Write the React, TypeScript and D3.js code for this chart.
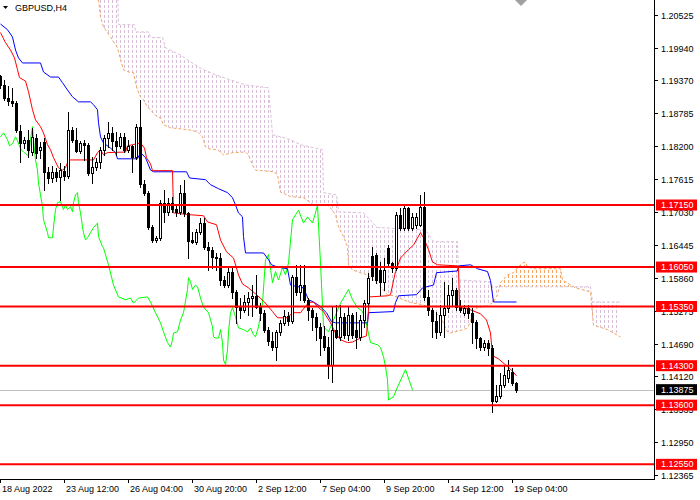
import React from "react";
import * as d3 from "d3";

// ---------- DATA ----------
const openP = [1.1944,1.1928,1.1905,1.19,1.1896,1.1847,1.1825,1.1831,1.1809,1.1834,1.1813,1.1827,1.1774,1.1763,1.1774,1.1765,1.1776,1.1767,1.1848,1.1831,1.1811,1.1825,1.1822,1.1772,1.1783,1.1792,1.1813,1.1834,1.1843,1.1829,1.182,1.1836,1.1813,1.182,1.1801,1.1854,1.1753,1.1737,1.1676,1.1653,1.1657,1.1719,1.1703,1.1719,1.1708,1.1703,1.1737,1.1701,1.1653,1.1649,1.1668,1.1683,1.1641,1.1636,1.1623,1.1621,1.1582,1.1573,1.1597,1.1561,1.1534,1.1529,1.1543,1.155,1.1554,1.1534,1.1524,1.1494,1.1474,1.1463,1.149,1.1506,1.1519,1.151,1.1588,1.1561,1.1573,1.1547,1.1529,1.1517,1.1499,1.1483,1.1463,1.1432,1.1494,1.1481,1.1517,1.1485,1.152,1.1494,1.1481,1.1511,1.1541,1.1625,1.1627,1.16,1.1579,1.1639,1.1613,1.1604,1.1698,1.1675,1.171,1.1675,1.168,1.168,1.1712,1.1552,1.1529,1.151,1.149,1.152,1.1533,1.1556,1.1565,1.1534,1.1524,1.1533,1.1524,1.1508,1.1479,1.1463,1.1471,1.1462,1.1368,1.1377,1.1396,1.1408,1.1419,1.14];
const highP = [1.1946,1.1937,1.1927,1.1923,1.19,1.1857,1.1836,1.1848,1.1852,1.1841,1.1827,1.1834,1.1783,1.1785,1.1781,1.179,1.1785,1.188,1.1854,1.1852,1.1829,1.1831,1.1825,1.1801,1.1799,1.1818,1.184,1.1863,1.1854,1.1845,1.1843,1.1843,1.1831,1.1822,1.1859,1.1902,1.176,1.1739,1.168,1.166,1.1724,1.1742,1.1728,1.173,1.1715,1.1751,1.176,1.1703,1.1668,1.1673,1.1692,1.1692,1.165,1.1641,1.163,1.163,1.1589,1.1605,1.1604,1.1565,1.155,1.1556,1.1561,1.1573,1.1591,1.1541,1.1529,1.1498,1.149,1.1494,1.1511,1.1529,1.1526,1.1591,1.1609,1.1609,1.1609,1.155,1.1532,1.1524,1.1506,1.1501,1.1481,1.1534,1.1538,1.1538,1.1524,1.1534,1.1524,1.1526,1.152,1.1547,1.1595,1.1641,1.163,1.1614,1.1621,1.1644,1.1614,1.1703,1.171,1.1715,1.1712,1.1701,1.1701,1.1733,1.1738,1.1565,1.1532,1.1526,1.1538,1.1579,1.1573,1.1586,1.1568,1.1547,1.1538,1.1538,1.1533,1.1511,1.1481,1.1476,1.1476,1.1467,1.1396,1.1417,1.1431,1.144,1.1426,1.1401];
const lowP = [1.1923,1.1902,1.1893,1.1891,1.1845,1.1792,1.1816,1.1801,1.1804,1.1799,1.1799,1.1742,1.1754,1.1756,1.1758,1.1724,1.176,1.1763,1.1827,1.1809,1.1808,1.1795,1.1769,1.1754,1.1777,1.1781,1.1804,1.1818,1.1813,1.1804,1.1816,1.1809,1.1809,1.1774,1.1797,1.1747,1.1733,1.1673,1.165,1.165,1.1653,1.1685,1.1697,1.1703,1.1696,1.1699,1.1696,1.1621,1.1648,1.1646,1.1664,1.1637,1.16,1.1604,1.16,1.1573,1.157,1.157,1.155,1.1506,1.1515,1.1525,1.152,1.1518,1.1533,1.1511,1.149,1.1467,1.1458,1.144,1.1485,1.1502,1.1502,1.1506,1.1556,1.1547,1.1543,1.1511,1.1494,1.1476,1.1449,1.1458,1.1408,1.1401,1.1479,1.1476,1.1479,1.1476,1.1479,1.1461,1.1476,1.1499,1.1534,1.1582,1.1577,1.1556,1.1565,1.1609,1.1596,1.16,1.1671,1.1671,1.1671,1.1671,1.1674,1.1678,1.1547,1.152,1.1481,1.1479,1.1485,1.1481,1.1526,1.1538,1.1529,1.1526,1.152,1.1515,1.1471,1.1461,1.1458,1.1458,1.1449,1.1348,1.1366,1.1372,1.1392,1.1401,1.1396,1.1384];
const closeP = [1.1928,1.1905,1.19,1.1896,1.1848,1.1825,1.1831,1.1813,1.1836,1.1808,1.1818,1.1774,1.1763,1.1774,1.1765,1.1777,1.1767,1.1848,1.1831,1.1811,1.1825,1.1822,1.1772,1.1783,1.1792,1.1813,1.1834,1.1843,1.1829,1.182,1.1836,1.1813,1.182,1.1801,1.1854,1.1753,1.1737,1.1676,1.1653,1.1657,1.1719,1.1703,1.1719,1.1708,1.1703,1.1737,1.1701,1.1651,1.1649,1.1668,1.1683,1.1641,1.1636,1.1623,1.1621,1.1582,1.1573,1.1597,1.1561,1.1534,1.1529,1.1543,1.155,1.1554,1.1534,1.1524,1.1494,1.1474,1.1463,1.149,1.1506,1.1519,1.151,1.1588,1.1561,1.1573,1.1547,1.1529,1.1517,1.1499,1.1479,1.1463,1.1432,1.1494,1.1481,1.1517,1.1485,1.152,1.1485,1.1481,1.1511,1.1541,1.1586,1.1589,1.1582,1.1579,1.16,1.1613,1.1604,1.1698,1.1675,1.171,1.1675,1.1694,1.1694,1.1712,1.1552,1.1529,1.151,1.149,1.152,1.1533,1.1556,1.1565,1.1534,1.1529,1.1533,1.1524,1.1508,1.1479,1.1463,1.1471,1.1462,1.1368,1.1377,1.1396,1.1414,1.1423,1.14,1.13875];

// Ichimoku lines as [bar index, price]
const tenkan: [number, number][] = [[0,1.2021],[1.25,1.2003],[2.5,1.199],[3.5,1.1976],[4.25,1.1955],[4.75,1.1941],[6.25,1.1935],[7,1.1916],[8,1.1884],[8.75,1.1866],[10,1.1854],[10.75,1.1843],[11.75,1.1822],[12.5,1.1813],[13.25,1.1799],[14.5,1.1781],[15.5,1.1777],[16.25,1.1781],[17,1.1795],[23.25,1.1795],[24.25,1.1808],[25,1.1813],[25.75,1.1804],[26.75,1.1808],[31.25,1.1809],[31.75,1.182],[33,1.1822],[35,1.1825],[36,1.1816],[36.5,1.1799],[37.5,1.1788],[38,1.1776],[43,1.1776],[43.25,1.1701],[47,1.1698],[50.75,1.1696],[51.75,1.1685],[54,1.168],[55,1.1653],[56.5,1.1632],[58.25,1.1621],[59.5,1.1591],[60.5,1.1575],[62,1.1568],[64,1.1556],[66,1.1543],[68,1.1526],[69.25,1.1515],[71.75,1.1515],[73,1.1524],[75,1.1524],[77,1.1542],[78.25,1.1543],[79.5,1.1533],[80.75,1.1526],[82.5,1.1506],[83.75,1.1488],[85,1.1476],[86.75,1.1471],[88,1.1472],[90,1.1479],[91.5,1.1483],[92.25,1.1552],[96.75,1.1554],[97.5,1.1556],[98.75,1.1597],[100,1.1621],[102,1.1636],[103.25,1.1644],[105,1.1666],[105.75,1.1657],[107,1.1636],[108,1.1614],[109.25,1.1609],[114.5,1.1607],[114.75,1.1533],[116.75,1.1531],[118.25,1.1527],[120,1.1522],[121.5,1.1511],[122.5,1.1488],[123,1.1448],[124.5,1.1442],[126,1.1433],[127.5,1.1424],[129,1.1412]];
const kijun: [number, number][] = [[0,1.2036],[1.75,1.2026],[3,1.2013],[3.75,1.199],[4.5,1.1976],[5.5,1.1967],[10,1.1967],[10.75,1.1951],[12.5,1.1942],[14.5,1.1942],[15.5,1.1932],[16.75,1.1919],[18,1.1907],[19.5,1.1898],[22.5,1.1898],[23.25,1.1893],[24.25,1.1884],[24.5,1.1861],[25,1.1836],[25.75,1.1825],[27.5,1.1816],[28.75,1.1808],[29.25,1.1797],[34.25,1.1797],[35,1.1808],[36.25,1.1799],[37.5,1.1777],[38.25,1.1774],[46.5,1.1774],[47.25,1.1763],[51.25,1.176],[52.5,1.1751],[54.5,1.1744],[56.75,1.1737],[58,1.1728],[58.75,1.1715],[59.5,1.1701],[60.5,1.1694],[60.75,1.1659],[61.25,1.163],[65.75,1.163],[67,1.1618],[67.75,1.1609],[69.25,1.1605],[71.75,1.1602],[72.5,1.1573],[75.75,1.1568],[77,1.1547],[78.25,1.1543],[79.75,1.1536],[81.5,1.1524],[82.75,1.1508],[83.75,1.1506],[91.75,1.1506],[92,1.1524],[98.25,1.1526],[98.75,1.1542],[99.5,1.1554],[104,1.1556],[105.5,1.1568],[108.25,1.1573],[109,1.1595],[114.25,1.1598],[114.5,1.1607],[117.5,1.1609],[119.25,1.1602],[121.75,1.1597],[122.5,1.1581],[123.25,1.1543],[129,1.1543]];
const chikou: [number, number][] = [[0,1.1836],[0.75,1.1843],[1.75,1.1831],[2.25,1.182],[3,1.1824],[3.75,1.1836],[4.25,1.1829],[5,1.1815],[5.75,1.1809],[7,1.1802],[7.5,1.1831],[8,1.1854],[8.25,1.1831],[8.75,1.1795],[9.25,1.1777],[9.5,1.1754],[10,1.1733],[10.5,1.1712],[10.75,1.1689],[11.75,1.1666],[12,1.1657],[13,1.1657],[13.25,1.1676],[13.75,1.1707],[14.25,1.1719],[15,1.1721],[15.5,1.1712],[15.75,1.1707],[16.25,1.1715],[16.75,1.1707],[17.5,1.1712],[18,1.1703],[18.25,1.1719],[18.75,1.1733],[19.25,1.1737],[19.5,1.1719],[20,1.1701],[20.5,1.1676],[20.75,1.1666],[21.25,1.1653],[21.75,1.1657],[22.5,1.1666],[23.25,1.1675],[24.25,1.1683],[24.5,1.1659],[25.5,1.1641],[25.75,1.1639],[27,1.1609],[28.25,1.1573],[29.5,1.1552],[31.25,1.1547],[32.5,1.155],[33.25,1.1541],[34.5,1.155],[36.75,1.1552],[37.5,1.1543],[38.75,1.1524],[40,1.1506],[40.75,1.149],[41.75,1.1471],[42.5,1.1463],[43,1.1476],[43.25,1.1488],[44.25,1.149],[45,1.1511],[45.75,1.1524],[46.75,1.1565],[47,1.1586],[47.5,1.1579],[48,1.1565],[48.75,1.1573],[49.25,1.157],[50,1.155],[50.75,1.1534],[52,1.1524],[53,1.1499],[53.25,1.1481],[53.75,1.1479],[54.5,1.1479],[55,1.1494],[55.5,1.1471],[55.75,1.144],[56.25,1.1432],[56.75,1.1458],[57,1.149],[57.5,1.1524],[58,1.1533],[58.75,1.1517],[59.5,1.1497],[60.75,1.1494],[61.75,1.149],[62.5,1.1497],[63.25,1.1485],[63.75,1.1481],[64.5,1.1499],[65.5,1.1541],[66.25,1.1618],[67,1.1627],[68,1.1577],[68.75,1.1597],[69.5,1.1582],[70.5,1.1604],[71.25,1.1591],[72,1.1612],[73,1.1689],[74.5,1.1706],[75.75,1.1683],[76.75,1.1694],[78,1.1683],[78.75,1.1701],[79.25,1.1715],[80,1.1612],[80.75,1.1499],[82,1.149],[83.25,1.1511],[85,1.1541],[86.25,1.1556],[87,1.1565],[88,1.1547],[89.25,1.1533],[90.5,1.1526],[91.25,1.1511],[92.5,1.1471],[94.25,1.1467],[95,1.1462],[95.75,1.1446],[96.25,1.1428],[96.75,1.1405],[97,1.1369],[98.25,1.1375],[99.5,1.1396],[101.25,1.1423],[103,1.1387]];
const spanA: [number, number][] = [[24,1.2088],[24.5,1.2079],[25,1.2049],[25.75,1.2031],[26.75,1.2021],[28,1.2008],[29.25,1.1994],[30,1.1973],[30.75,1.1955],[32,1.1951],[33.25,1.195],[33.75,1.1932],[34.25,1.1919],[35,1.1907],[35.75,1.1902],[36.75,1.1889],[38,1.188],[39.25,1.1871],[40,1.187],[40.75,1.1857],[42.5,1.1852],[47.5,1.1848],[49.25,1.1845],[50.5,1.1836],[51.25,1.1818],[52,1.1815],[54.25,1.1813],[55,1.1809],[55.75,1.1804],[58.25,1.1808],[61.25,1.1809],[62,1.1804],[63,1.1786],[63.75,1.1777],[68.25,1.1774],[69.25,1.1769],[70,1.1738],[72.5,1.173],[75.75,1.1728],[78.25,1.1715],[81.75,1.1715],[82.5,1.171],[83.75,1.1698],[84.5,1.1676],[85.75,1.1659],[86.75,1.1641],[87,1.1609],[88,1.16],[90,1.1595],[91.75,1.1591],[93.25,1.1582],[95,1.157],[96.75,1.1556],[98.25,1.1554],[100,1.1549],[102.5,1.1542],[105.75,1.1538],[106.75,1.1534],[108.25,1.1526],[110,1.1517],[111.75,1.149],[112.5,1.1488],[115.75,1.1494],[116.75,1.1497],[117.5,1.1508],[118,1.1526],[119.25,1.1533],[121.75,1.1536],[123.25,1.1543],[124.25,1.1556],[125,1.1577],[126.75,1.1591],[128.25,1.1595],[129.25,1.1604],[130.5,1.1612],[131.25,1.1614],[131.75,1.1605],[133.25,1.1602],[140,1.1602],[140.5,1.1582],[143.75,1.1568],[147.5,1.1561],[148.25,1.1502],[151.75,1.1494],[153.25,1.1488],[155,1.1481]];
const spanB: [number, number][] = [[24,1.2115],[29.25,1.2115],[29.5,1.2035],[33.5,1.2035],[33.75,1.2022],[37,1.2022],[37.5,1.2012],[40.5,1.2012],[41.25,1.1994],[45,1.1981],[47.5,1.1969],[50,1.1958],[53.75,1.1946],[57.5,1.1937],[61.25,1.1928],[67,1.1923],[68,1.184],[72.5,1.1831],[75,1.1822],[80.5,1.1813],[80.75,1.1737],[84,1.1733],[84.5,1.1703],[90.75,1.1701],[94.25,1.1675],[105.75,1.1671],[106.75,1.1666],[108.25,1.165],[114.25,1.165],[114.5,1.1582],[122.5,1.1579],[123,1.157],[147.5,1.157],[148,1.1543],[155,1.1543]];

const levels = [1.1715, 1.1605, 1.1535, 1.143, 1.136, 1.1255];
const levelLabels = ["1.17150", "1.16050", "1.15350", "1.14300", "1.13600", "1.12550"];
const bidPrice = 1.13875;
const bidLabel = "1.13875";
const yTicks = [1.20525, 1.1994, 1.1937, 1.18785, 1.182, 1.17615, 1.1703, 1.16445, 1.1586, 1.15275, 1.1469, 1.1412, 1.13535, 1.1295, 1.12365];
const yTickLabels = ["1.20525", "1.19940", "1.19370", "1.18785", "1.18200", "1.17615", "1.17030", "1.16445", "1.15860", "1.15275", "1.14690", "1.14120", "1.13535", "1.12950", "1.12365"];
const xTickBars = [0, 16, 32, 48, 64, 80, 96, 112, 128];
const xTickLabels = ["18 Aug 2022", "23 Aug 12:00", "26 Aug 04:00", "30 Aug 20:00", "2 Sep 12:00", "7 Sep 04:00", "9 Sep 20:00", "14 Sep 12:00", "19 Sep 04:00"];
const symbolTitle = "GBPUSD,H4";

// ---------- LAYOUT ----------
const W = 700, H = 500;
const PR = 654, PB = 479;
const FONT = "'Liberation Sans', Arial, sans-serif";

export default function App() {
  const x = d3.scaleLinear().domain([0, 163.5]).range([0, PR]);
  const y = d3.scaleLinear().domain([1.12290, 1.20787]).range([PB, 0]);

  const line = d3.line<[number, number]>().x(d => x(d[0]) + 0.5).y(d => y(d[1]));
  const areaUp = d3.area<[number, number]>().x(d => x(d[0])).y0(-60).y1(d => y(d[1]));
  const areaDown = d3.area<[number, number]>().x(d => x(d[0])).y0(620).y1(d => y(d[1]));

  return (
    <svg width={W} height={H} style={{ position: "absolute", left: 0, top: 0, background: "#fff" }} fontFamily={FONT}>
      <defs>
        <clipPath id="plot"><rect x={0} y={0} width={PR} height={PB} /></clipPath>
        <clipPath id="aboveA"><path d={areaUp(spanA) || ""} /></clipPath>
        <clipPath id="aboveB"><path d={areaUp(spanB) || ""} /></clipPath>
        <pattern id="hatchT" patternUnits="userSpaceOnUse" width={4} height={5}>
          <line x1={0.5} x2={0.5} y1={0} y2={3} stroke="#d8bfd8" strokeWidth={1} />
        </pattern>
        <pattern id="hatchO" patternUnits="userSpaceOnUse" width={4} height={5}>
          <line x1={0.5} x2={0.5} y1={0} y2={3} stroke="#f4a460" strokeWidth={1} />
        </pattern>
      </defs>
      <rect x={0} y={0} width={W} height={H} fill="#fff" />
      <g clipPath="url(#plot)">
        {/* cloud */}
        <path d={areaDown(spanB) || ""} fill="url(#hatchT)" clipPath="url(#aboveA)" />
        <path d={areaDown(spanA) || ""} fill="url(#hatchO)" clipPath="url(#aboveB)" />
        <path d={line(spanB) || ""} fill="none" stroke="#d8bfd8" strokeDasharray="3,2" />
        <path d={line(spanA) || ""} fill="none" stroke="#f4a460" strokeDasharray="3,2" />
        {/* bid line */}
        <line x1={0} x2={PR} y1={Math.round(y(bidPrice)) + 0.5} y2={Math.round(y(bidPrice)) + 0.5} stroke="#c0c0c0" />
        {/* ichimoku lines */}
        <path d={line(chikou) || ""} fill="none" stroke="#00ff00" strokeWidth={1} />
        <path d={line(kijun) || ""} fill="none" stroke="#0000ff" strokeWidth={1} />
        <path d={line(tenkan) || ""} fill="none" stroke="#ff0000" strokeWidth={1} />
        {/* candles */}
        {openP.map((o, i) => {
          const c = closeP[i];
          const cx = Math.round(x(i));
          const yo = Math.round(y(o)), yc = Math.round(y(c));
          const yh = Math.round(y(highP[i])), yl = Math.round(y(lowP[i]));
          const top = Math.min(yo, yc), bot = Math.max(yo, yc);
          const bull = c > o;
          return (
            <g key={i}>
              <line x1={cx + 0.5} x2={cx + 0.5} y1={yh} y2={yl + 1} stroke="#000" />
              {bull ? (
                <rect x={cx - 0.5} y={top + 0.5} width={2} height={Math.max(bot - top, 1)} fill="#fff" stroke="#000" />
              ) : (
                <rect x={cx - 1} y={top} width={3} height={Math.max(bot - top, 1) + 1} fill="#000" />
              )}
            </g>
          );
        })}
        {/* horizontal levels */}
        {levels.map((l, k) => (
          <line key={k} x1={0} x2={PR} y1={y(l)} y2={y(l)} stroke="#ff0000" strokeWidth={2} />
        ))}
      </g>
      {/* shift marker */}
      <polygon points="515,0 527,0 521,6" fill="#a0a0a0" />
      {/* title */}
      <polygon points="3,6 8,6 5.5,9" fill="#000" />
      <text x={15} y={11} fontSize={9} fill="#000">{symbolTitle}</text>
      {/* axes frame */}
      <line x1={PR + 0.5} x2={PR + 0.5} y1={0} y2={PB + 1} stroke="#000" />
      <line x1={0} x2={PR + 1} y1={PB + 0.5} y2={PB + 0.5} stroke="#000" />
      {/* y ticks */}
      {yTicks.map((t, k) => {
        const yy = Math.round(y(t)) + 0.5;
        return (
          <g key={k}>
            <line x1={PR} x2={PR + 4} y1={yy} y2={yy} stroke="#000" />
            <text x={661} y={yy} dy="0.35em" fontSize={9} fill="#000">{yTickLabels[k]}</text>
          </g>
        );
      })}
      {/* x ticks */}
      {xTickBars.map((b, k) => {
        const xx = Math.round(x(b)) + 0.5;
        return (
          <g key={k}>
            <line x1={xx} x2={xx} y1={PB} y2={PB + 4} stroke="#000" />
            <text x={xx + 1.5} y={492} fontSize={9} fill="#000">{xTickLabels[k]}</text>
          </g>
        );
      })}
      {/* level labels */}
      {levels.map((l, k) => (
        <g key={k}>
          <rect x={656} y={y(l) - 5.5} width={41} height={11} fill="#ff0000" />
          <text x={661} y={y(l)} dy="0.35em" fontSize={9} fill="#fff">{levelLabels[k]}</text>
        </g>
      ))}
      <rect x={656} y={y(bidPrice) - 5.5} width={41} height={11} fill="#000" />
      <text x={661} y={y(bidPrice)} dy="0.35em" fontSize={9} fill="#fff">{bidLabel}</text>
    </svg>
  );
}
